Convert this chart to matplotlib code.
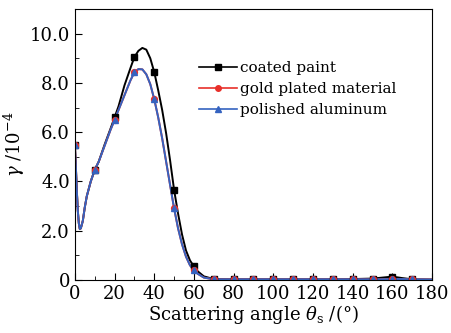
import matplotlib.pyplot as plt
from matplotlib.ticker import MultipleLocator, FixedLocator

plt.rcParams['font.family'] = ['DejaVu Serif']
plt.rcParams['mathtext.fontset'] = 'dejavuserif'

# measured points (markers)
angle = [0, 10, 20, 30, 40, 50, 60, 70, 80, 90, 100, 110, 120, 130, 140, 150, 160, 170]
coated = [5.5, 4.47, 6.6, 9.05, 8.44, 3.66, 0.55, 0.05, 0.03, 0.03, 0.03, 0.03, 0.03, 0.03, 0.04, 0.06, 0.14, 0.03]
gold = [5.5, 4.47, 6.49, 8.43, 7.34, 2.91, 0.4, 0.05, 0.03, 0.03, 0.03, 0.03, 0.03, 0.03, 0.03, 0.03, 0.05, 0.03]
alum = [5.5, 4.47, 6.49, 8.43, 7.34, 2.91, 0.4, 0.05, 0.03, 0.03, 0.03, 0.03, 0.03, 0.03, 0.03, 0.03, 0.05, 0.03]

# fitted curves
curve_x = [0, 0.5, 1, 1.5, 2, 2.5, 3, 4, 5, 6, 8, 10, 12, 15, 18, 20, 22, 25, 28, 30,
           32, 34, 36, 38, 40, 42, 44, 46, 48, 50, 52, 54, 56, 58, 60, 62, 65, 70,
           80, 90, 100, 110, 120, 130, 140, 150, 155, 160, 165, 170, 180]
coated_curve = [5.5, 4.6, 3.6, 2.8, 2.3, 2.07, 2.1, 2.4, 2.95, 3.4, 4.0, 4.47, 4.8, 5.5, 6.15, 6.6,
                7.05, 7.9, 8.6, 9.05, 9.3, 9.42, 9.35, 9.0, 8.44, 7.7, 6.9, 5.95, 4.85, 3.66,
                2.7, 1.85, 1.2, 0.8, 0.55, 0.35, 0.15, 0.04,
                0.03, 0.03, 0.03, 0.03, 0.03, 0.03, 0.04, 0.06, 0.1, 0.14, 0.08, 0.03, 0.02]
metal_curve = [5.5, 4.6, 3.6, 2.8, 2.3, 2.07, 2.1, 2.4, 2.95, 3.4, 4.0, 4.47, 4.8, 5.45, 6.1, 6.49,
               6.9, 7.5, 8.1, 8.43, 8.56, 8.55, 8.35, 7.95, 7.34, 6.6, 5.75, 4.8, 3.85, 2.91,
               2.1, 1.45, 0.95, 0.6, 0.4, 0.25, 0.1, 0.03,
               0.03, 0.03, 0.03, 0.03, 0.03, 0.03, 0.03, 0.03, 0.03, 0.04, 0.04, 0.03, 0.02]

fig = plt.figure(figsize=(4.51, 3.33), dpi=100)
ax = fig.add_axes([0.166, 0.159, 0.792, 0.814])

ax.plot(curve_x, coated_curve, color='black', lw=1.4)
ax.plot(curve_x, metal_curve, color='#e8302a', lw=1.4)
ax.plot(curve_x, metal_curve, color='#3563c0', lw=1.4)

ax.plot(angle, coated, ls='none', marker='s', ms=4.2, color='black')
ax.plot(angle, gold, ls='none', marker='o', ms=4.2, color='#e8302a')
ax.plot(angle, alum, ls='none', marker='^', ms=5, color='#3563c0')

# legend handles
ax.plot([], [], color='black', marker='s', ms=4, lw=1.2, label='coated paint')
ax.plot([], [], color='#e8302a', marker='o', ms=4, lw=1.2, label='gold plated material')
ax.plot([], [], color='#3563c0', marker='^', ms=4.5, lw=1.2, label='polished aluminum')
ax.legend(loc='upper left', bbox_to_anchor=(0.325, 0.835), frameon=False, fontsize=11,
          handlelength=2.5, handletextpad=0.2, labelspacing=0.45, borderpad=0)

ax.set_xlim(0, 180)
ax.set_ylim(0, 11.0)
ax.xaxis.set_major_locator(MultipleLocator(20))
ax.xaxis.set_minor_locator(MultipleLocator(10))
ax.yaxis.set_major_locator(FixedLocator([0, 2, 4, 6, 8, 10]))
ax.yaxis.set_minor_locator(MultipleLocator(1))
ax.set_yticklabels(['0', '2.0', '4.0', '6.0', '8.0', '10.0'])
ax.tick_params(which='both', direction='in', labelsize=13, top=False, right=False)
ax.tick_params(which='major', length=5)
ax.tick_params(which='minor', length=3)

ax.set_xlabel(r'Scattering angle $\theta_{\rm s}$ /(°)', fontsize=13, labelpad=0)
ax.set_ylabel(r'$\gamma$ /10$^{-4}$', fontsize=13, labelpad=2)

fig.savefig('out.png', dpi=100)
